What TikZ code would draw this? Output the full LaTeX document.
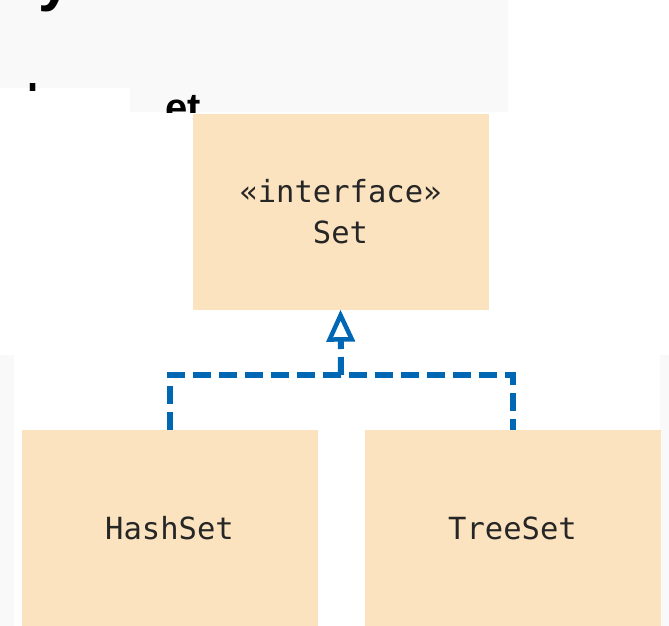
\documentclass[tikz,border=0pt]{standalone}
\usepackage{fontspec}
\usetikzlibrary{arrows.meta}
\newfontfamily\umlfont{DejaVu Sans Mono}
\newfontfamily\slidefont{Liberation Sans}
\definecolor{boxfill}{HTML}{FBE3BF}
\definecolor{umlblue}{HTML}{0067B4}
\definecolor{slidegray}{HTML}{F9F9F9}

\begin{document}
\begin{tikzpicture}[x=1pt, y=-1pt,
        classbox/.style={rectangle, fill=boxfill, text=black!85, inner sep=0pt, minimum width=296pt, minimum height=196pt, align=center, font=\umlfont\fontsize{30.5}{41}\selectfont},
        realize/.style={line width=6pt, draw=umlblue, dash pattern=on 18pt off 8pt},
        openhead/.style={-{Triangle[open, length=32pt, width=28pt, line width=4.5pt]}},
        fragment/.style={inner sep=0pt, font=\slidefont\bfseries\fontsize{40}{40}\selectfont}
    ]
    \useasboundingbox (0,0) rectangle (669,626);

    % leftover slide background
    \fill[slidegray] (0,0) rectangle (508,88) (130,88) rectangle (508,112);
    \fill[slidegray] (0,355) rectangle (14,626) (660,355) rectangle (669,626);
    \begin{scope}
        \clip (0,0) rectangle (508,14);
        \node[fragment, font=\slidefont\bfseries\fontsize{60}{60}\selectfont, anchor=south west] (fragy) at (38,12) {y};
    \end{scope}
    \begin{scope}
        \clip (0,0) rectangle (130,90);
        \node[fragment, anchor=north west] (fragl) at (27,83) {l};
    \end{scope}
    \begin{scope}
        \clip (130,0) rectangle (508,112);
        \node[fragment, anchor=north west] (fraget) at (165,95) {et};
    \end{scope}

    \node[classbox] (set) at (340.5,211.5) {«interface»\\Set};
    \node[classbox] (hash) at (169.5,528) {HashSet};
    \node[classbox] (tree) at (512.5,528) {TreeSet};

    \coordinate (join) at (341,375);
    \draw[realize] (hash.north) |- (join) -| (tree.north);
    \draw[realize, openhead] (join) -- (set.south);

    \end{tikzpicture}
\end{document}
